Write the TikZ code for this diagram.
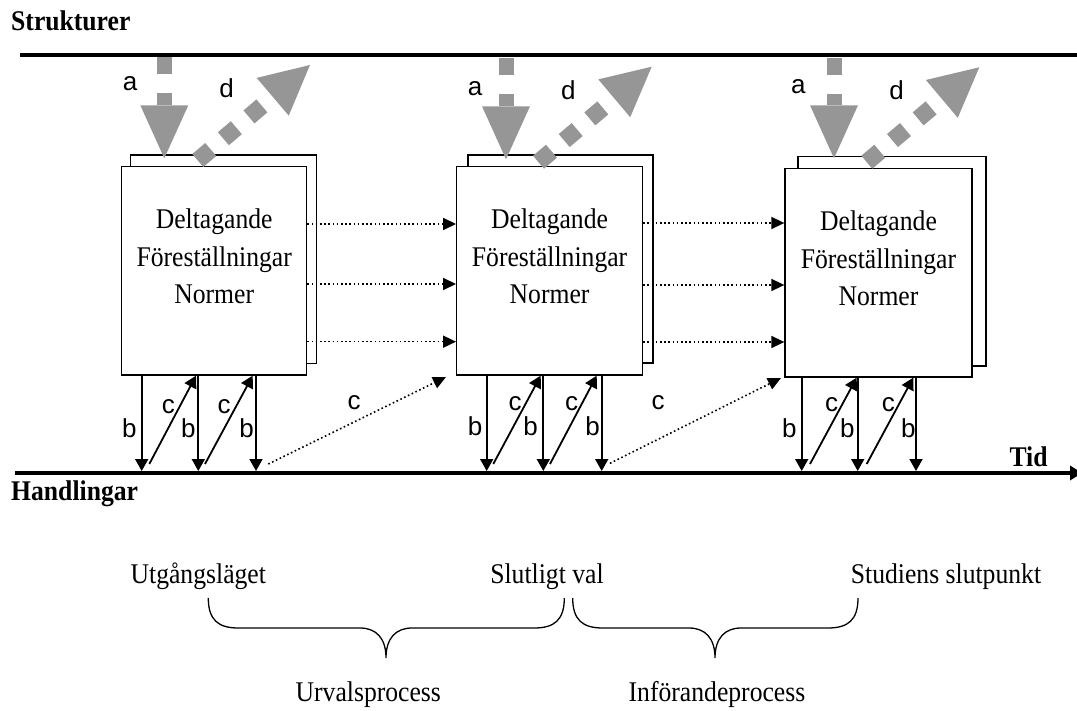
\documentclass[tikz,border=0pt]{standalone}
\usepackage{fontspec}
\setmainfont{Liberation Serif}[FakeStretch=0.9]
\newfontfamily\arialfont{Liberation Sans}
\usetikzlibrary{arrows.meta}
\definecolor{arrowgray}{RGB}{150,150,150}
\newcommand\diagboxfont{\fontsize{28.5}{37}\selectfont}
\newcommand\diagheadfont{\fontsize{28.5}{30}\selectfont\bfseries}
\newcommand\diaglblfont{\arialfont\fontsize{26}{28}\selectfont}

\tikzset{
  axisline/.style={line width=4.5pt},
  backbox/.style={draw, fill=white, line width=1.3pt, inner sep=0pt, rectangle},
  frontbox/.style={draw, fill=white, line width=1.3pt, inner sep=0pt, rectangle},
  boxtext/.style={font=\diagboxfont, anchor=base, inner sep=0pt},
  headlbl/.style={font=\diagheadfont, inner sep=0pt},
  phaselbl/.style={font=\diagboxfont, anchor=base, inner sep=0pt},
  letter/.style={font=\diaglblfont, inner sep=0pt},
  barrow/.style={line width=1.8pt, -{Triangle[length=12pt,width=13pt]}},
  dotarrow/.style={line width=1.6pt, dash pattern=on 1.6pt off 2.6pt,
    -{Triangle[length=13pt,width=12pt]}},
  grayin/.style={draw=arrowgray, line width=15pt, dash pattern=on 17pt off 19pt,
    -{Triangle[length=53pt,width=48pt,line width=0pt]}},
  grayout/.style={draw=arrowgray, line width=17pt, dash pattern=on 17pt off 16.6pt,
    -{Triangle[length=49pt,width=49.5pt,line width=0pt]}},
  bracepath/.style={line width=1.3pt},
}

\begin{document}
\begin{tikzpicture}[x=1pt,y=-1pt]
\useasboundingbox (0,0) rectangle (1077,711);

% structure axis (top) and action/time axis (bottom)
\coordinate (topL) at (20,55);
\coordinate (topR) at (1077,55);
\coordinate (botL) at (15,473);
\coordinate (botR) at (1082,473);
\coordinate (axis) at (0,471);
\coordinate (cfoot) at (0,464);
\draw[axisline] (topL) -- (topR);
\draw[axisline, -{Triangle[length=12pt,width=15pt,line width=0pt]}] (botL) -- (botR);

\node[headlbl, anchor=base west] (strukt) at (11,30.7) {Strukturer};
\node[headlbl, anchor=base west] (handl) at (11,500) {Handlingar};
\node[headlbl, anchor=base west] (tid) at (1009.3,466) {Tid};

% stacked boxes
\node[backbox, minimum width=186pt, minimum height=208.3pt] (k1) at (223.7,259.15) {};
\node[frontbox, minimum width=185pt, minimum height=208.3pt] (f1) at (214.2,270.85) {};
\node[backbox, minimum width=185pt, minimum height=208pt] (k2) at (560.5,259) {};
\node[frontbox, minimum width=185.8pt, minimum height=208.3pt] (f2) at (549.6,270.85) {};
\node[backbox, minimum width=188pt, minimum height=209.5pt] (k3) at (892,261.25) {};
\node[frontbox, minimum width=187pt, minimum height=208.5pt] (f3) at (878.5,272.75) {};

\foreach \n/\x/\y in {1/214.2/229, 2/549.6/229, 3/878.5/230.7} {
  \node[boxtext] (t\n a) at (\x,\y) {Deltagande};
  \node[boxtext] (t\n b) at (\x,\y+37.5) {Föreställningar};
  \node[boxtext] (t\n c) at (\x,\y+75) {Normer};
}

% dotted carry-over arrows between the boxes
\foreach \y in {224,284,341.7} {
  \draw[dotarrow] (f1.east |- 0,\y) -- (f2.west |- 0,\y);
}
\foreach \y in {223,285,342} {
  \draw[dotarrow] (f2.east |- 0,\y) -- (f3.west |- 0,\y);
}

% b and c arrows below each box
\foreach \x in {141.7,198.3,256} {\draw[barrow] (\x,0 |- f1.south) -- (\x,0 |- axis);}
\foreach \x in {486.7,543.3,601.7} {\draw[barrow] (\x,0 |- f2.south) -- (\x,0 |- axis);}
\foreach \x in {801.7,857.7,916} {\draw[barrow] (\x,0 |- f3.south) -- (\x,0 |- axis);}

\foreach \xs/\xe in {149.3/196, 205/252.7} {\draw[barrow] (\xs,0 |- cfoot) -- (\xe,0 |- f1.south);}
\foreach \xs/\xe in {493.3/540.7, 550/596.7} {\draw[barrow] (\xs,0 |- cfoot) -- (\xe,0 |- f2.south);}
\foreach \xs/\xe in {810/856.7, 866.7/913.3} {\draw[barrow] (\xs,0 |- cfoot) -- (\xe,0 |- f3.south);}

\coordinate (cs1) at (268.3,464);
\coordinate (ce1) at (446,377);
\coordinate (cs2) at (610,463.3);
\coordinate (ce2) at (781,378);
\draw[dotarrow] (cs1) -- (ce1);
\draw[dotarrow] (cs2) -- (ce2);

% grey a (in) and d (out) arrows at the structure axis
\coordinate (as1) at (164.3,57.5);  \coordinate (at1) at (164.3,158.3);
\coordinate (as2) at (506,58.5);    \coordinate (at2) at (506,159.3);
\coordinate (as3) at (834,58.5);    \coordinate (at3) at (834,158.3);
\coordinate (ds1) at (197.8,160.5); \coordinate (dt1) at (310,65);
\coordinate (ds2) at (538.5,162.2); \coordinate (dt2) at (651.7,66.7);
\coordinate (ds3) at (866.8,162.2); \coordinate (dt3) at (979.3,67.3);
\foreach \n in {1,2,3} {
  \draw[grayin] (as\n) -- (at\n);
  \draw[grayout] (ds\n) -- (dt\n);
}

% letters
\foreach \n/\x/\y in {1/130/83.3, 2/475/88.3, 3/798.3/86.7} {\node[letter] (la\n) at (\x,\y) {a};}
\foreach \n/\x/\y in {1/226.7/88.3, 2/568.3/90, 3/896.7/90} {\node[letter] (ld\n) at (\x,\y) {d};}
\foreach \n/\x/\y in {1/129.3/428, 2/188.3/428, 3/246.7/428, 4/475/426.7, 5/530.7/426.7,
  6/592.7/426.7, 7/789.3/428, 8/847.3/428, 9/908.3/428} {\node[letter] (lb\n) at (\x,\y) {b};}
\foreach \n/\x/\y in {1/168.3/406.7, 2/224/406.7, 3/354/403, 4/515/403.3, 5/571.7/403.3,
  6/658/403, 7/831.7/405, 8/888.3/405} {\node[letter] (lc\n) at (\x,\y) {c};}

% phases
\node[phaselbl] (p1) at (198.3,583.3) {Utgångsläget};
\node[phaselbl] (p2) at (547,583.3) {Slutligt val};
\node[phaselbl] (p3) at (946,583.3) {Studiens slutpunkt};
\node[phaselbl] (q1) at (368.3,701.7) {Urvalsprocess};
\node[phaselbl] (q2) at (717,701.7) {Införandeprocess};

\foreach \l/\m/\r in {208.3/386/564.3, 572.7/715/858} {
  \draw[bracepath] (\l,598) .. controls (\l,620) and ({\l+10},628) .. ({\l+30},628)
    -- ({\m-26},628) .. controls ({\m-10},628) and (\m,638) .. (\m,658)
    .. controls (\m,638) and ({\m+10},628) .. ({\m+26},628)
    -- ({\r-30},628) .. controls ({\r-10},628) and (\r,620) .. (\r,598);
}
\end{tikzpicture}
\end{document}
